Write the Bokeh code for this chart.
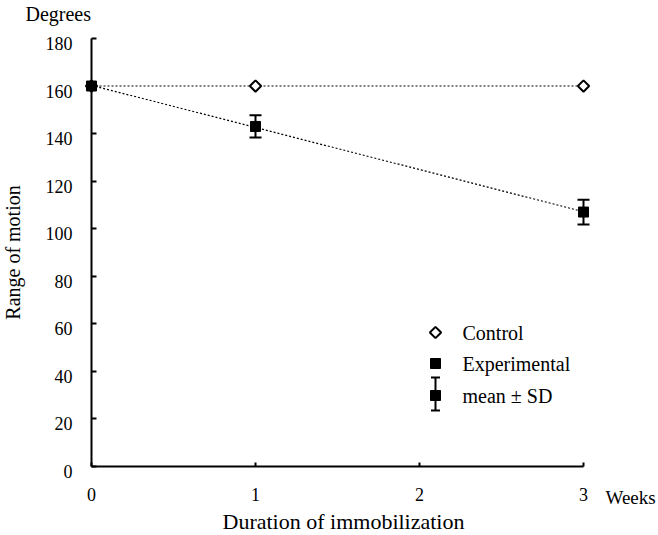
import numpy as np
from bokeh.plotting import figure
from bokeh.models import Range1d, FixedTicker, Label, LabelSet, Whisker, TeeHead, ColumnDataSource
from bokeh.embed import file_html
from bokeh.resources import INLINE

# ---- data ----
weeks = [0, 1, 3]
control_mean = [160, 160, 160]
exp_mean = [160, 143, 107]
exp_sd = [0, 4.7, 5.2]
x_ticks = [0, 1, 2, 3]
y_ticks = [0, 20, 40, 60, 80, 100, 120, 140, 160, 180]
legend_labels = ["Control", "Experimental", "mean \u00b1 SD"]

# ---- layout constants (pixels) ----
W, H = 658, 535
X0, Y0 = 91, 466           # canvas position of (0, 0)
PX_X, PX_Y = 164.0, 2.378  # pixels per unit
FONT = "Liberation Serif"


def dx(px):
    return (px - X0) / PX_X


def dy(py):
    return (Y0 - py) / PX_Y


p = figure(width=W, height=H, output_backend="svg", toolbar_location=None,
           x_range=Range1d(dx(0), dx(W)), y_range=Range1d(dy(H), dy(0)),
           min_border=0)
p.outline_line_color = None
p.grid.visible = False
p.background_fill_color = "white"

for ax in (p.xaxis[0], p.yaxis[0]):
    ax.fixed_location = 0
    ax.axis_line_width = 2
    ax.axis_line_color = "black"
    ax.major_tick_line_width = 2
    ax.major_tick_line_color = "black"
    ax.major_tick_out = 0
    ax.minor_tick_line_color = None
    ax.major_label_text_font = FONT
    ax.major_label_text_font_size = "18px"
    ax.major_label_text_color = "black"

p.xaxis[0].ticker = FixedTicker(ticks=x_ticks)
p.xaxis[0].bounds = (x_ticks[0], x_ticks[-1])
p.xaxis[0].major_tick_in = 4
p.xaxis[0].major_label_standoff = 21

p.yaxis[0].ticker = FixedTicker(ticks=y_ticks)
p.yaxis[0].bounds = (y_ticks[0], y_ticks[-1])
p.yaxis[0].major_tick_in = 5
p.yaxis[0].major_label_text_color = None  # labels drawn below, slightly lowered as in the original

src_yl = ColumnDataSource(dict(x=[0] * len(y_ticks), y=y_ticks, t=[str(v) for v in y_ticks]))
p.add_layout(LabelSet(source=src_yl, x="x", y="y", text="t", x_offset=-19, y_offset=-5,
                      text_font=FONT, text_font_size="18px", text_align="right",
                      text_baseline="middle", text_color="black"))

# ---- trend lines ----
xs_line = np.array([weeks[0], weeks[-1]], dtype=float)
p.line(weeks, control_mean, line_color="black", line_width=1.2, line_dash="2 2")
coef = np.polyfit(weeks, exp_mean, 1)
p.line(xs_line, np.polyval(coef, xs_line), line_color="black", line_width=1.2, line_dash="2 2")

# ---- error bars ----
wk = [w for w, s in zip(weeks, exp_sd) if s > 0]
up = [m + s for m, s in zip(exp_mean, exp_sd) if s > 0]
lo = [m - s for m, s in zip(exp_mean, exp_sd) if s > 0]
src_err = ColumnDataSource(dict(x=wk, upper=up, lower=lo))
p.add_layout(Whisker(source=src_err, base="x", upper="upper", lower="lower", dimension="height",
                     line_width=2, line_color="black",
                     upper_head=TeeHead(size=12, line_width=2, line_color="black"),
                     lower_head=TeeHead(size=12, line_width=2, line_color="black")))

# ---- markers ----
p.scatter(weeks, control_mean, marker="square", angle=np.pi / 4, size=8,
          fill_color="white", line_color="black", line_width=2)
p.scatter(weeks, exp_mean, marker="square", size=10, fill_color="black", line_color="black")

# ---- legend (manual) ----
LX = dx(435)
TX = dx(462)
rows_y = [dy(332), dy(363), dy(395)]
p.scatter([LX], [rows_y[0]], marker="square", angle=np.pi / 4, size=8,
          fill_color="white", line_color="black", line_width=2)
p.scatter([LX, LX], [rows_y[1], rows_y[2]], marker="square", size=10,
          fill_color="black", line_color="black")
src_leg = ColumnDataSource(dict(x=[LX], upper=[dy(377)], lower=[dy(410)]))
p.add_layout(Whisker(source=src_leg, base="x", upper="upper", lower="lower", dimension="height",
                     line_width=2, line_color="black",
                     upper_head=TeeHead(size=9, line_width=2, line_color="black"),
                     lower_head=TeeHead(size=9, line_width=2, line_color="black")))
for lab, yy in zip(legend_labels, rows_y):
    p.add_layout(Label(x=TX, y=yy, text=lab, text_font=FONT, text_font_size="20px",
                       text_baseline="middle", text_align="left", text_color="black"))

# ---- texts ----
p.add_layout(Label(x=dx(25), y=dy(2), text="Degrees", text_font=FONT, text_font_size="20px",
                   text_baseline="top", text_align="left", text_color="black"))
p.add_layout(Label(x=dx(605), y=dy(497), text="Weeks", text_font=FONT, text_font_size="19px",
                   text_baseline="middle", text_align="left", text_color="black"))
p.add_layout(Label(x=dx(343), y=dy(521), text="Duration of immobilization", text_font=FONT,
                   text_font_size="22px", text_baseline="middle", text_align="center",
                   text_color="black"))
p.add_layout(Label(x=dx(12), y=dy(252), text="Range of motion", text_font=FONT,
                   text_font_size="20px", text_baseline="middle", text_align="center",
                   angle=np.pi / 2, text_color="black"))

open("out.html", "w").write(file_html(p, INLINE))
